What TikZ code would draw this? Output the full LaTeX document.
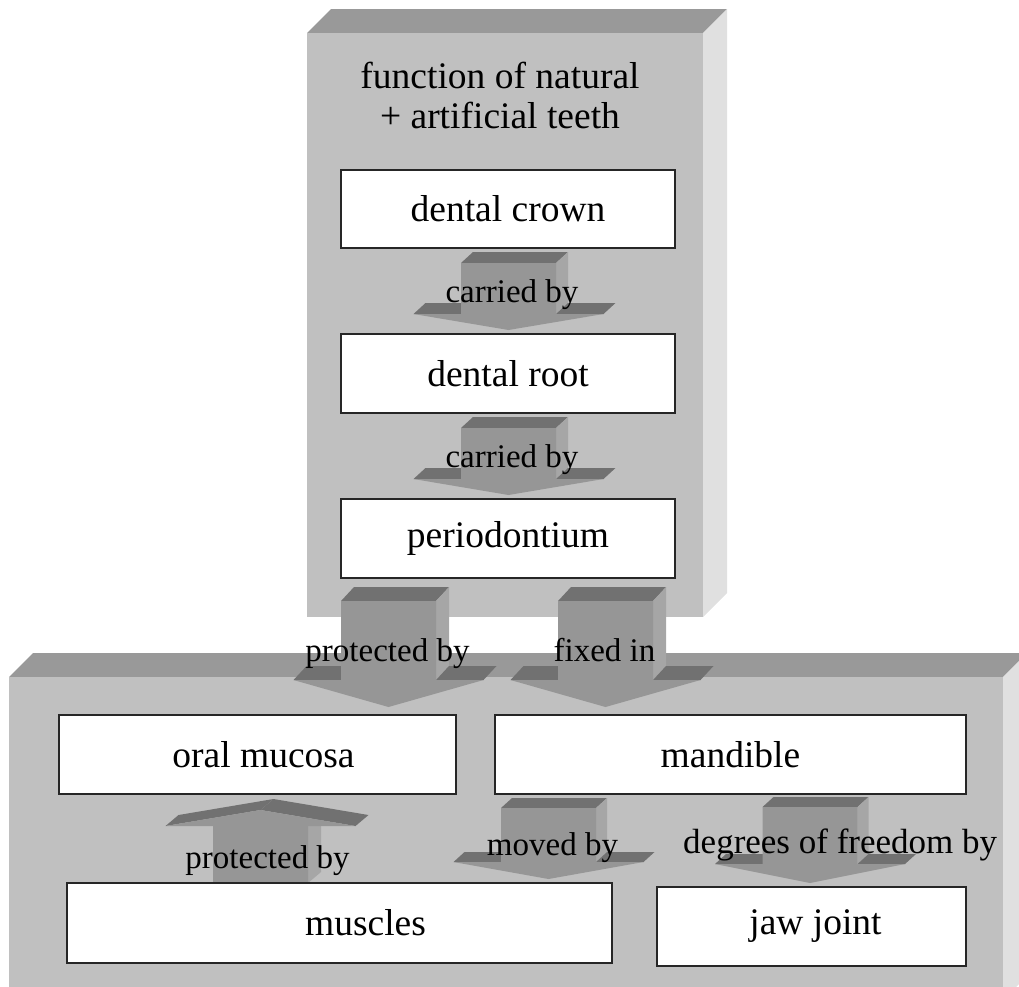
\documentclass[tikz,border=0pt]{standalone}
\usepackage{fontspec}
\setmainfont{Liberation Serif}
\definecolor{blocktop}{HTML}{999999}
\definecolor{blockfront}{HTML}{C0C0C0}
\definecolor{blockside}{HTML}{E0E0E0}
\definecolor{arrfront}{HTML}{969696}
\definecolor{arrtop}{HTML}{717171}
\definecolor{arrside}{HTML}{A6A6A6}

% 3D block arrow pointing down: #1 centre x, #2 shaft top, #3 wing line, #4 tip, #5/#6 depth (right/up)
\newcommand{\blockdown}[6]{%
  \begin{scope}[shift={(#1,0)}]
    \fill[arrtop]  (-47.5,#2) -- (47.5,#2) -- (47.5+#5,#2-#6) -- (-47.5+#5,#2-#6) -- cycle;
    \fill[arrside] (47.5,#2) -- (47.5+#5,#2-#6) -- (47.5+#5,#3-#6) -- (47.5,#3) -- cycle;
    \fill[arrtop]  (-95,#3) -- (-95+#5,#3-#6) -- (-47.5+#5,#3-#6) -- (-47.5,#3) -- cycle;
    \fill[arrtop]  (47.5,#3) -- (47.5+#5,#3-#6) -- (95+#5,#3-#6) -- (95,#3) -- cycle;
    \fill[arrfront] (-47.5,#2) -- (47.5,#2) -- (47.5,#3) -- (95,#3) -- (0,#4)
                    -- (-95,#3) -- (-47.5,#3) -- cycle;
  \end{scope}}

% 3D block arrow pointing up: #1 centre x, #2 shaft bottom, #3 wing line, #4 tip, #5/#6 depth
\newcommand{\blockup}[6]{%
  \begin{scope}[shift={(#1,0)}]
    \fill[arrside] (47.5,#3) -- (47.5+#5,#3-#6) -- (47.5+#5,#2-#6) -- (47.5,#2) -- cycle;
    \fill[arrtop]  (-95,#3) -- (0,#4) -- (#5,#4-#6) -- (-95+#5,#3-#6) -- cycle;
    \fill[arrtop]  (0,#4) -- (95,#3) -- (95+#5,#3-#6) -- (#5,#4-#6) -- cycle;
    \fill[arrfront] (-47.5,#2) -- (-47.5,#3) -- (-95,#3) -- (0,#4) -- (95,#3)
                    -- (47.5,#3) -- (47.5,#2) -- cycle;
  \end{scope}}

% 3D slab: #1 left, #2 top, #3 right, #4 bottom, #5 depth
\newcommand{\slab}[5]{%
  \fill[blocktop]  (#1,#2) -- (#1+#5,#2-#5) -- (#3+#5,#2-#5) -- (#3,#2) -- cycle;
  \fill[blockside] (#3,#2) -- (#3+#5,#2-#5) -- (#3+#5,#4-#5) -- (#3,#4) -- cycle;
  \fill[blockfront] (#1,#2) rectangle (#3,#4);}

\tikzset{
  box/.style={draw=black!85, line width=1.2pt, fill=white, rectangle, inner sep=0pt,
    font=\fontsize{37.5}{40}\selectfont},
  arrlabel/.style={anchor=base, inner sep=0pt, font=\fontsize{33}{36}\selectfont},
  titletext/.style={align=center, inner sep=0pt, font=\fontsize{37.5}{40}\selectfont}
}

\begin{document}
\begin{tikzpicture}[x=1pt, y=-1pt]
  \useasboundingbox (0,0) rectangle (1019,986);
  \clip (0,0) rectangle (1019,986);

  % the two slabs
  \slab{9}{677}{1003}{1000}{24}
  \slab{307}{33}{703}{617}{24}

  % block arrows
  \blockdown{508.5}{263}{314}{330}{12}{11}
  \blockdown{508.5}{428}{479}{495}{12}{11}
  \blockdown{388.5}{601}{680}{707}{13}{14}
  \blockdown{605.5}{601}{680}{707}{13}{14}
  \blockdown{548.5}{808}{862}{879}{11}{10}
  \blockdown{810}{807}{864}{883}{11}{10}
  \blockup{260.5}{883}{826}{810}{13}{11}

  % title of the upper slab
  \node[titletext, anchor=base] (title) at (500,128) {function of natural\\+ artificial teeth};

  % boxes
  \node[box, minimum width=334, minimum height=78] (crown) at (508,209) {dental crown};
  \node[box, minimum width=334, minimum height=79] (root) at (508,373.5) {dental root};
  \node[box, minimum width=334, minimum height=79] (perio) at (508,538.5) {periodontium};
  \node[box, minimum width=397, minimum height=79] (mucosa) at (257.5,754.5) {\hspace*{12pt}oral mucosa};
  \node[box, minimum width=471, minimum height=79] (mandible) at (730.5,754.5) {mandible};
  \node[box, minimum width=545, minimum height=80] (muscles) at (339.5,923) {\hspace*{52pt}muscles};
  \node[box, minimum width=309, minimum height=79] (jaw) at (811.5,926.5) {\hspace*{8pt}jaw joint};

  % arrow labels
  \node[arrlabel] (l1) at (512,302) {carried by};
  \node[arrlabel] (l2) at (512,467) {carried by};
  \node[arrlabel] (l3) at (387.5,661) {protected by};
  \node[arrlabel] (l4) at (604.5,661) {fixed in};
  \node[arrlabel] (l5) at (267.5,868) {protected by};
  \node[arrlabel] (l6) at (552.5,855) {moved by};
  \node[arrlabel, anchor=base west, font=\fontsize{35}{38}\selectfont] (l7) at (683,853) {degrees of freedom by};
\end{tikzpicture}
\end{document}
